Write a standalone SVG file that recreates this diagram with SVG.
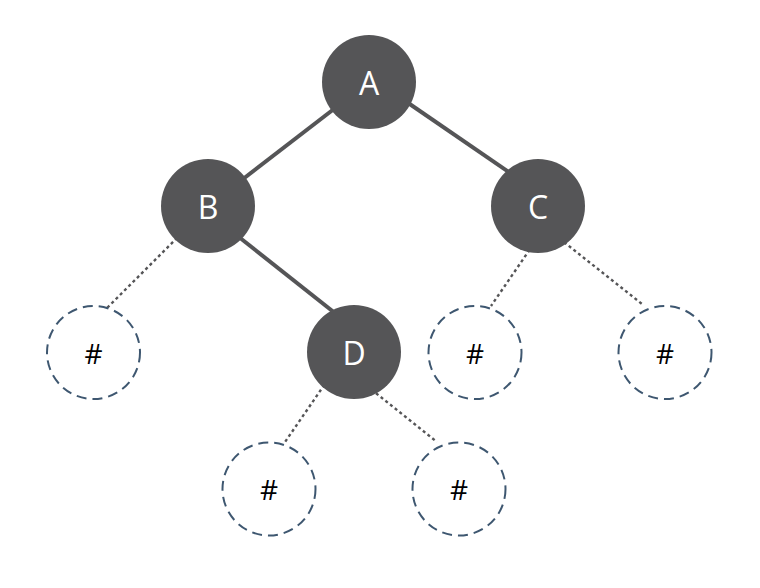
<svg xmlns="http://www.w3.org/2000/svg" width="760" height="588" viewBox="0 0 760 588">
<style>
.solid{stroke:#555557;stroke-width:4;fill:none}
.dot{stroke:#555557;stroke-width:2.4;stroke-dasharray:3 3;fill:none}
.node circle{fill:#555557;stroke:none}
.null circle{fill:#ffffff;stroke:#3e5770;stroke-width:2;stroke-dasharray:10 6}
.lbl{font-family:"Open Sans","Noto Sans",sans-serif;font-size:32px;fill:#ffffff;text-anchor:middle;dominant-baseline:central}
.hash{font-family:"Open Sans","Noto Sans",sans-serif;font-size:28px;fill:#000000;text-anchor:middle;dominant-baseline:central}
</style>
<rect width="760" height="588" fill="#ffffff"/>
<g id="connectors">
<line class="solid" x1="369" y1="82" x2="208" y2="206"/>
<line class="solid" x1="398" y1="96" x2="516" y2="177"/>
<line class="solid" x1="230" y1="230" x2="345" y2="321"/>
<line class="dot" x1="190" y1="225" x2="106" y2="309"/>
<line class="dot" x1="550" y1="220" x2="491" y2="306"/>
<line class="dot" x1="550" y1="231" x2="642" y2="304"/>
<line class="dot" x1="338" y1="365" x2="285" y2="442"/>
<line class="dot" x1="362" y1="382" x2="437" y2="442"/>
</g>
<g id="nodeA" class="node"><circle cx="369" cy="82" r="47"/><text class="lbl" x="369" y="82">A</text></g>
<g id="nodeB" class="node"><circle cx="208" cy="206" r="47"/><text class="lbl" x="208" y="206">B</text></g>
<g id="nodeC" class="node"><circle cx="538" cy="206" r="47"/><text class="lbl" x="538" y="206">C</text></g>
<g id="nodeD" class="node"><circle cx="354" cy="352" r="47"/><text class="lbl" x="354" y="352">D</text></g>
<g id="nullB" class="null"><circle cx="93.5" cy="352.5" r="46.5"/><text class="hash" x="93.5" y="352.5">#</text></g>
<g id="nullC1" class="null"><circle cx="475" cy="352.5" r="46.5"/><text class="hash" x="475" y="352.5">#</text></g>
<g id="nullC2" class="null"><circle cx="665" cy="352.5" r="46.5"/><text class="hash" x="665" y="352.5">#</text></g>
<g id="nullD1" class="null"><circle cx="269" cy="489" r="46.5"/><text class="hash" x="269" y="489">#</text></g>
<g id="nullD2" class="null"><circle cx="459" cy="489" r="46.5"/><text class="hash" x="459" y="489">#</text></g>
</svg>
